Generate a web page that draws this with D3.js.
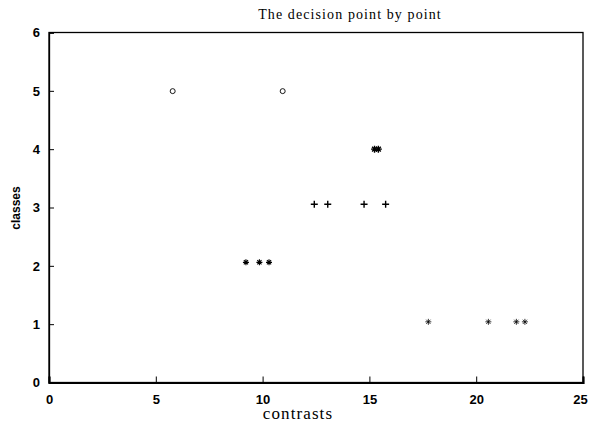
<!DOCTYPE html>
<html><head><meta charset="utf-8">
<script src="https://cdn.jsdelivr.net/npm/d3@7"></script>
<style>body{margin:0;background:#fff}svg{display:block}</style>
</head><body>
<script>
const xTicks = [0, 5, 10, 15, 20, 25];
const yTicks = [0, 1, 2, 3, 4, 5, 6];
const class5X = [5.79, 10.94];
const class4X = [15.24, 15.42];
const class3X = [12.42, 13.05, 14.75, 15.76];
const class2X = [9.22, 9.85, 10.30];
const class1X = [17.76, 20.57, 21.88, 22.28];
const classY = [1.04, 2.06, 3.055, 4.0, 4.995];
const titleText = "The decision point by point";
const xLabel = "contrasts";
const yLabel = "classes";

const W = 589, H = 424;
const m = {l: 49, r: 583, t: 32.5, b: 382.5};
const svg = d3.select("body").append("svg").attr("width", W).attr("height", H);
const x = d3.scaleLinear().domain([0, 25]).range([m.l, m.r]);
const y = d3.scaleLinear().domain([0, 6]).range([m.b, m.t]);

svg.append("rect").attr("x", m.l).attr("y", m.t).attr("width", m.r - m.l).attr("height", m.b - m.t)
  .attr("fill", "none").attr("stroke", "#000").attr("stroke-width", 1.3);

const xAxis = svg.append("g").attr("transform", `translate(0,${m.b})`)
  .call(d3.axisBottom(x).tickValues(xTicks).tickSize(-6).tickPadding(12).tickFormat(d3.format("d")));
xAxis.select(".domain").attr("stroke-width", 2.2);
const yAxis = svg.append("g").attr("transform", `translate(${m.l},0)`)
  .call(d3.axisLeft(y).tickValues(yTicks).tickSize(-5).tickPadding(9).tickFormat(d3.format("d")));
[xAxis, yAxis].forEach(g => {
  g.selectAll("text").attr("font-family", "'Liberation Sans', Arial, sans-serif")
    .attr("font-weight", "bold").attr("font-size", 13).attr("fill", "#000");
  g.selectAll("line").attr("stroke", "#000");
  g.select(".domain").attr("stroke", "#000");
});
yAxis.select(".domain").attr("stroke-width", 1.3);
xAxis.selectAll(".tick").filter(d => d === 25).select("text").attr("dx", -3);

function star(cx, cy, r) {
  const p = d3.path();
  p.moveTo(cx - r, cy); p.lineTo(cx + r, cy);
  p.moveTo(cx, cy - r); p.lineTo(cx, cy + r);
  const d = r * 0.7;
  p.moveTo(cx - d, cy - d); p.lineTo(cx + d, cy + d);
  p.moveTo(cx - d, cy + d); p.lineTo(cx + d, cy - d);
  return p.toString();
}
function plus(cx, cy, r) {
  const p = d3.path();
  p.moveTo(cx - r, cy); p.lineTo(cx + r, cy);
  p.moveTo(cx, cy - r); p.lineTo(cx, cy + r);
  return p.toString();
}
function circ(cx, cy, r) {
  const p = d3.path();
  p.arc(cx, cy, r, 0, 2 * Math.PI);
  return p.toString();
}
const marks = svg.append("g").attr("fill", "none").attr("stroke", "#000");
function drawSeries(xs, yv, fn, r, sw) {
  marks.selectAll(null).data(xs).enter().append("path")
    .attr("d", d => fn(x(d), y(yv), r)).attr("stroke-width", sw);
}
drawSeries(class5X, classY[4], circ, 2.5, 0.9);
drawSeries(class4X, classY[3], star, 3.5, 1.4);
drawSeries(class3X, classY[2], plus, 3.5, 1.4);
drawSeries(class2X, classY[1], star, 3, 1.1);
drawSeries(class1X, classY[0], star, 3, 0.8);

svg.append("text").attr("x", 350).attr("y", 19).attr("text-anchor", "middle")
  .attr("font-family", "'Liberation Serif', 'Times New Roman', serif").attr("font-size", 14)
  .attr("letter-spacing", 1.1).text(titleText);
svg.append("text").attr("x", 298).attr("y", 419).attr("text-anchor", "middle")
  .attr("font-family", "'Liberation Serif', 'Times New Roman', serif").attr("font-size", 17)
  .attr("letter-spacing", 1.1).text(xLabel);
svg.append("text").attr("transform", "translate(20,208) rotate(-90)").attr("text-anchor", "middle")
  .attr("font-family", "'Liberation Sans', Arial, sans-serif").attr("font-weight", "bold").attr("font-size", 12).text(yLabel);
</script>
</body></html>
